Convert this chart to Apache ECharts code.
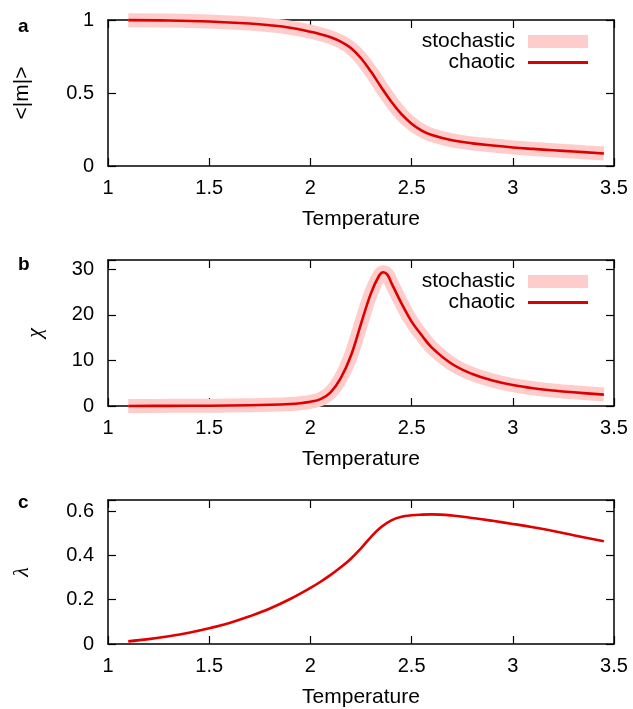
<!DOCTYPE html>
<html>
<head>
<meta charset="utf-8">
<script src="https://cdn.jsdelivr.net/npm/echarts@6/dist/echarts.min.js"></script>
<style>
html,body{margin:0;padding:0;background:#fff;}
#chart{width:633px;height:709px;}
</style>
</head>
<body>
<div id="chart"></div>
<script>
// ---------- data ----------
const xTicks = [1, 1.5, 2, 2.5, 3, 3.5];
const yTicksA = [0, 0.5, 1];
const yTicksB = [0, 10, 20, 30];
const yTicksC = [0, 0.2, 0.4, 0.6];
const yMaxA = 1, yMaxB = 32, yMaxC = 0.65;

const tempA = [1.1, 1.3, 1.5, 1.7, 1.8, 1.9, 2.0, 2.05, 2.1, 2.15, 2.2, 2.25, 2.3, 2.35, 2.4, 2.45, 2.5, 2.55, 2.6, 2.7, 2.8, 2.9, 3.0, 3.1, 3.2, 3.3, 3.45];
const magStochastic = [0.999, 0.997, 0.99, 0.976, 0.964, 0.947, 0.92, 0.903, 0.882, 0.852, 0.808, 0.738, 0.645, 0.54, 0.44, 0.355, 0.29, 0.243, 0.212, 0.176, 0.155, 0.14, 0.127, 0.117, 0.108, 0.099, 0.086];
const magChaotic    = [0.999, 0.997, 0.99, 0.976, 0.964, 0.947, 0.92, 0.903, 0.882, 0.852, 0.808, 0.738, 0.645, 0.54, 0.44, 0.355, 0.29, 0.243, 0.212, 0.176, 0.155, 0.14, 0.127, 0.117, 0.108, 0.099, 0.086];

const tempB = [1.1, 1.3, 1.5, 1.7, 1.8, 1.9, 1.95, 2.0, 2.05, 2.1, 2.15, 2.2, 2.25, 2.3, 2.34, 2.36, 2.38, 2.4, 2.45, 2.5, 2.55, 2.6, 2.7, 2.8, 2.9, 3.0, 3.1, 3.2, 3.3, 3.45];
const chiStochastic = [0.0, 0.03, 0.07, 0.17, 0.27, 0.45, 0.62, 0.92, 1.5, 3.0, 6.1, 11.0, 18.0, 24.8, 28.6, 29.3, 28.8, 27.0, 22.5, 18.5, 15.5, 12.8, 9.2, 7.0, 5.6, 4.6, 3.9, 3.4, 3.0, 2.5];
const chiChaotic    = [0.0, 0.03, 0.07, 0.17, 0.27, 0.45, 0.62, 0.92, 1.5, 3.0, 6.1, 11.0, 18.0, 24.8, 28.6, 29.3, 28.8, 27.0, 22.5, 18.5, 15.5, 12.8, 9.2, 7.0, 5.6, 4.6, 3.9, 3.4, 3.0, 2.5];

const tempC = [1.1, 1.2, 1.3, 1.4, 1.5, 1.6, 1.7, 1.8, 1.9, 2.0, 2.05, 2.1, 2.15, 2.2, 2.25, 2.3, 2.35, 2.4, 2.45, 2.5, 2.55, 2.6, 2.7, 2.8, 2.9, 3.0, 3.1, 3.2, 3.3, 3.45];
const lambdaChaotic = [0.012, 0.022, 0.035, 0.051, 0.071, 0.095, 0.125, 0.16, 0.203, 0.253, 0.281, 0.312, 0.346, 0.385, 0.432, 0.484, 0.528, 0.558, 0.574, 0.581, 0.584, 0.585, 0.58, 0.569, 0.556, 0.542, 0.527, 0.51, 0.491, 0.464];

// ---------- styles ----------
const FONT = "'Liberation Sans', Arial, Helvetica, sans-serif";
const PINK = '#ffcccc';
const RED = '#dd0000';
const pair = (xs, ys) => xs.map((x, i) => [x, ys[i]]);
const fmt = ticks => v => ticks.some(t => Math.abs(t - v) < 1e-9) ? String(v) : '';

const gridsTop = [20, 260, 500];
const grids = gridsTop.map(t => ({left: 108, top: t, width: 506, height: 146}));

function xAxes(gi) {
  const base = {
    type: 'value', gridIndex: gi, min: xTicks[0], max: xTicks[xTicks.length - 1],
    interval: xTicks[1] - xTicks[0],
    axisLine: {show: true, onZero: false, lineStyle: {color: '#000', width: 1.5}},
    axisTick: {show: true, inside: true, length: 8, lineStyle: {color: '#000', width: 1.2}},
    splitLine: {show: false}
  };
  return [
    Object.assign({}, base, {
      position: 'bottom',
      axisLabel: {show: true, margin: 12, color: '#000', fontSize: 20, fontFamily: FONT, formatter: fmt(xTicks)},
      name: 'Temperature', nameLocation: 'middle', nameGap: 43,
      nameTextStyle: {color: '#000', fontSize: 21, fontFamily: FONT}
    }),
    Object.assign({}, base, {position: 'top', axisLabel: {show: false}})
  ];
}
function yAxes(gi, ticks, max, name, gap, nameStyle) {
  const base = {
    type: 'value', gridIndex: gi, min: ticks[0], max: max, interval: ticks[1] - ticks[0],
    axisLine: {show: true, onZero: false, lineStyle: {color: '#000', width: 1.5}},
    axisTick: {show: true, inside: true, length: 8, lineStyle: {color: '#000', width: 1.2}},
    splitLine: {show: false}
  };
  return [
    Object.assign({}, base, {
      position: 'left',
      axisLabel: {show: true, margin: 14, color: '#000', fontSize: 20, fontFamily: FONT, formatter: fmt(ticks)},
      name: name, nameLocation: 'middle', nameRotate: 90, nameGap: gap,
      nameTextStyle: Object.assign({color: '#000'}, nameStyle)
    }),
    Object.assign({}, base, {position: 'right', axisLabel: {show: false}})
  ];
}

function legends(top) {
  return [
    {
      top: top + 6, right: 40, orient: 'vertical', align: 'right',
      itemWidth: 60, itemHeight: 13, icon: 'rect',
      textStyle: {color: '#000', fontSize: 21, fontFamily: FONT, padding: [0, 8, 0, 0]},
      data: [{name: 'stochastic', icon: 'rect', itemStyle: {color: PINK}}],
      selectedMode: false
    },
    {
      top: top + 27, right: 40, orient: 'vertical', align: 'right',
      itemWidth: 60, itemHeight: 3, icon: 'rect',
      textStyle: {color: '#000', fontSize: 21, fontFamily: FONT, padding: [0, 8, 0, 0]},
      data: [{name: 'chaotic', icon: 'rect', itemStyle: {color: RED}}],
      selectedMode: false
    }
  ];
}

function band(gi, xs, ys) {
  return {
    type: 'line', name: 'stochastic', xAxisIndex: gi * 2, yAxisIndex: gi * 2,
    data: pair(xs, ys), showSymbol: false, smooth: 0.4, clip: false,
    color: PINK, itemStyle: {color: PINK},
    lineStyle: {color: PINK, width: 14, cap: 'butt', join: 'round'}, z: 2
  };
}
function line(gi, xs, ys, color) {
  return {
    type: 'line', name: 'chaotic', xAxisIndex: gi * 2, yAxisIndex: gi * 2,
    data: pair(xs, ys), showSymbol: false, smooth: 0.4, clip: false,
    color: color, itemStyle: {color: color},
    lineStyle: {color: color, width: 2.6, join: 'round'}, z: 3
  };
}

const label = (txt, top) => ({
  text: txt, left: 13, top: top,
  textStyle: {color: '#000', fontSize: 19, fontWeight: 'bold', fontFamily: FONT}
});

const option = {
  animation: false,
  backgroundColor: '#fff',
  title: [label('a', 12), label('b', 250), label('c', 488)],
  grid: grids,
  xAxis: [].concat(xAxes(0), xAxes(1), xAxes(2)),
  yAxis: [].concat(
    yAxes(0, yTicksA, yMaxA, '<|m|>', 75, {fontSize: 21, fontFamily: FONT}),
    yAxes(1, yTicksB, yMaxB, 'χ', 62, {fontSize: 22, fontFamily: "'Liberation Serif', serif", fontStyle: 'italic'}),
    yAxes(2, yTicksC, yMaxC, 'λ', 75, {fontSize: 22, fontFamily: "'Liberation Serif', serif", fontStyle: 'italic'})
  ),
  legend: [].concat(legends(20), legends(260)),
  series: [
    band(0, tempA, magStochastic), line(0, tempA, magChaotic, RED),
    band(1, tempB, chiStochastic), line(1, tempB, chiChaotic, RED),
    line(2, tempC, lambdaChaotic, '#e00000')
  ]
};

const chart = echarts.init(document.getElementById('chart'), null, {renderer: 'canvas'});
chart.setOption(option);
</script>
</body>
</html>
